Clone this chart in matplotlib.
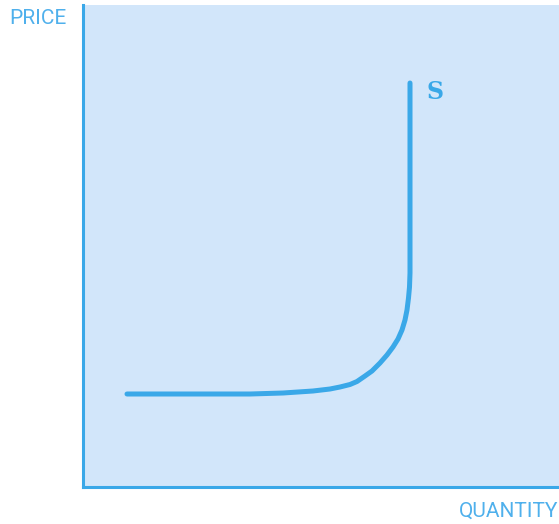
import matplotlib.pyplot as plt

# supply curve (pixel-based units from the axes corner)
quantity = [44, 167, 200, 230, 247, 257, 267, 274, 282, 289, 297, 304, 310, 315, 319,
            322, 324, 325.5, 326.5, 327, 327, 327]
price = [93, 93, 94, 96, 98, 100, 102.5, 105.5, 111, 116, 124, 132, 140, 148, 157,
         167, 177, 189, 200, 214, 227, 404]
curve_label = 'S'
x_label = 'QUANTITY'
y_label = 'PRICE'

line_color = '#3AA8E8'
text_color = '#4FB0EC'
fill_color = '#D2E6FA'

fig = plt.figure(figsize=(5.59, 5.24), dpi=100)
W, H = 559, 524
ax = fig.add_axes([83 / W, (H - 487) / H, (W - 83) / W, (487 - 5) / H])
ax.set_facecolor(fill_color)
ax.set_xlim(0, 476)
ax.set_ylim(0, 482)

ax.plot(quantity, price, color=line_color, linewidth=3.6, solid_capstyle='round',
        solid_joinstyle='round')
ax.text(quantity[-1] + 17, price[-1] - 9, curve_label, color=line_color,
        fontsize=17, fontweight='bold', family='DejaVu Serif', va='center', ha='left')

for side in ['top', 'right']:
    ax.spines[side].set_visible(False)
for side in ['left', 'bottom']:
    ax.spines[side].set_color(line_color)
    ax.spines[side].set_linewidth(2.2)
ax.set_xticks([])
ax.set_yticks([])

fig.text(9 / W, 1 - 18 / H, y_label, color=text_color, fontsize=15,
         family='Roboto', va='center', ha='left')
fig.text(459 / W, 1 - 511 / H, x_label, color=text_color, fontsize=15,
         family='Roboto', va='center', ha='left')

fig.savefig('out.png', dpi=100)
